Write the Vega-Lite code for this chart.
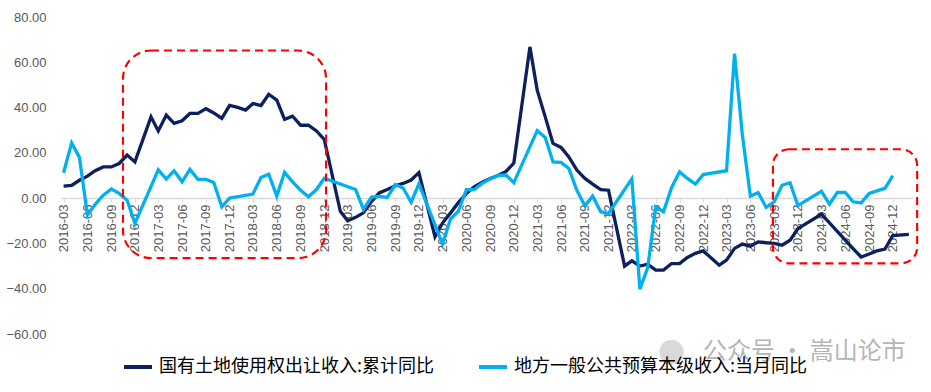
{
  "$schema": "https://vega.github.io/schema/vega-lite/v6.json",
  "width": 852,
  "height": 317,
  "autosize": "none",
  "padding": {"left": 61, "top": 17, "right": 18, "bottom": 58},
  "background": "white",
  "config": {"view": {"stroke": null}, "font": "Liberation Sans"},
  "data": {
    "values": [
      {"m": "2016-03-01T00:00:00", "land": 5.3, "budget": 11.2},
      {"m": "2016-04-01T00:00:00", "land": 5.6, "budget": 24.4},
      {"m": "2016-05-01T00:00:00", "land": 7.9, "budget": 18.0},
      {"m": "2016-06-01T00:00:00", "land": 9.7, "budget": -7.5},
      {"m": "2016-07-01T00:00:00", "land": 12.1, "budget": -2.7},
      {"m": "2016-08-01T00:00:00", "land": 13.8, "budget": 1.3},
      {"m": "2016-09-01T00:00:00", "land": 13.8, "budget": 4.0},
      {"m": "2016-10-01T00:00:00", "land": 15.3, "budget": 2.1},
      {"m": "2016-11-01T00:00:00", "land": 19.0, "budget": -0.9},
      {"m": "2016-12-01T00:00:00", "land": 16.0, "budget": -11.2},
      {"m": "2017-02-01T00:00:00", "land": 35.9, "budget": null},
      {"m": "2017-03-01T00:00:00", "land": 29.7, "budget": 12.5},
      {"m": "2017-04-01T00:00:00", "land": 36.7, "budget": 8.4},
      {"m": "2017-05-01T00:00:00", "land": 33.0, "budget": 12.1},
      {"m": "2017-06-01T00:00:00", "land": 34.2, "budget": 7.2},
      {"m": "2017-07-01T00:00:00", "land": 37.4, "budget": 12.7},
      {"m": "2017-08-01T00:00:00", "land": 37.4, "budget": 8.3},
      {"m": "2017-09-01T00:00:00", "land": 39.5, "budget": 8.3},
      {"m": "2017-10-01T00:00:00", "land": 37.6, "budget": 6.9},
      {"m": "2017-11-01T00:00:00", "land": 35.2, "budget": -3.8},
      {"m": "2017-12-01T00:00:00", "land": 41.0, "budget": 0.0},
      {"m": "2018-01-01T00:00:00", "land": 40.1, "budget": null},
      {"m": "2018-02-01T00:00:00", "land": 38.9, "budget": null},
      {"m": "2018-03-01T00:00:00", "land": 41.8, "budget": 1.8},
      {"m": "2018-04-01T00:00:00", "land": 40.9, "budget": 9.1},
      {"m": "2018-05-01T00:00:00", "land": 45.9, "budget": 10.6},
      {"m": "2018-06-01T00:00:00", "land": 43.3, "budget": 0.9},
      {"m": "2018-07-01T00:00:00", "land": 34.8, "budget": 11.4},
      {"m": "2018-08-01T00:00:00", "land": 36.2, "budget": 7.2},
      {"m": "2018-09-01T00:00:00", "land": 32.2, "budget": 3.5},
      {"m": "2018-10-01T00:00:00", "land": 32.2, "budget": 0.6},
      {"m": "2018-11-01T00:00:00", "land": 29.7, "budget": 3.8},
      {"m": "2018-12-01T00:00:00", "land": 25.9, "budget": 8.8},
      {"m": "2019-02-01T00:00:00", "land": -5.8, "budget": null},
      {"m": "2019-03-01T00:00:00", "land": -10.0, "budget": null},
      {"m": "2019-04-01T00:00:00", "land": -8.5, "budget": 3.8},
      {"m": "2019-05-01T00:00:00", "land": -6.5, "budget": -5.0},
      {"m": "2019-06-01T00:00:00", "land": -1.5, "budget": 0.5},
      {"m": "2019-07-01T00:00:00", "land": 2.3, "budget": 0.8},
      {"m": "2019-08-01T00:00:00", "land": 3.8, "budget": 0.3},
      {"m": "2019-09-01T00:00:00", "land": 5.5, "budget": 6.0},
      {"m": "2019-10-01T00:00:00", "land": 6.5, "budget": 4.5},
      {"m": "2019-11-01T00:00:00", "land": 8.0, "budget": -1.8},
      {"m": "2019-12-01T00:00:00", "land": 11.3, "budget": 6.3},
      {"m": "2020-02-01T00:00:00", "land": -17.1, "budget": null},
      {"m": "2020-03-01T00:00:00", "land": -11.0, "budget": -20.3},
      {"m": "2020-04-01T00:00:00", "land": -6.5, "budget": -9.2},
      {"m": "2020-05-01T00:00:00", "land": -2.0, "budget": -5.8},
      {"m": "2020-06-01T00:00:00", "land": 2.0, "budget": 3.8},
      {"m": "2020-07-01T00:00:00", "land": 5.0, "budget": 3.8},
      {"m": "2020-08-01T00:00:00", "land": 7.0, "budget": 6.5},
      {"m": "2020-09-01T00:00:00", "land": 8.7, "budget": 8.5},
      {"m": "2020-10-01T00:00:00", "land": 10.0, "budget": 10.0},
      {"m": "2020-11-01T00:00:00", "land": 11.8, "budget": 10.2},
      {"m": "2020-12-01T00:00:00", "land": 15.5, "budget": 6.8},
      {"m": "2021-02-01T00:00:00", "land": 66.8, "budget": null},
      {"m": "2021-03-01T00:00:00", "land": 47.7, "budget": 29.8},
      {"m": "2021-04-01T00:00:00", "land": 35.9, "budget": 26.8},
      {"m": "2021-05-01T00:00:00", "land": 24.2, "budget": 16.0},
      {"m": "2021-06-01T00:00:00", "land": 22.4, "budget": 15.8},
      {"m": "2021-07-01T00:00:00", "land": 18.2, "budget": 13.1},
      {"m": "2021-08-01T00:00:00", "land": 12.4, "budget": 3.5},
      {"m": "2021-09-01T00:00:00", "land": 8.7, "budget": -3.4},
      {"m": "2021-10-01T00:00:00", "land": 6.2, "budget": 0.9},
      {"m": "2021-11-01T00:00:00", "land": 3.8, "budget": -6.0},
      {"m": "2021-12-01T00:00:00", "land": 3.5, "budget": -6.8},
      {"m": "2022-02-01T00:00:00", "land": -30.0, "budget": null},
      {"m": "2022-03-01T00:00:00", "land": -27.7, "budget": 8.5},
      {"m": "2022-04-01T00:00:00", "land": -30.0, "budget": -40.2},
      {"m": "2022-05-01T00:00:00", "land": -29.2, "budget": -30.8},
      {"m": "2022-06-01T00:00:00", "land": -31.8, "budget": -3.8},
      {"m": "2022-07-01T00:00:00", "land": -31.8, "budget": -6.0},
      {"m": "2022-08-01T00:00:00", "land": -28.9, "budget": 4.6},
      {"m": "2022-09-01T00:00:00", "land": -28.9, "budget": 11.6},
      {"m": "2022-10-01T00:00:00", "land": -26.2, "budget": 8.7},
      {"m": "2022-11-01T00:00:00", "land": -24.4, "budget": 6.2},
      {"m": "2022-12-01T00:00:00", "land": -23.3, "budget": 10.4},
      {"m": "2023-02-01T00:00:00", "land": -29.6, "budget": null},
      {"m": "2023-03-01T00:00:00", "land": -27.4, "budget": 12.1},
      {"m": "2023-04-01T00:00:00", "land": -22.2, "budget": 63.8},
      {"m": "2023-05-01T00:00:00", "land": -20.3, "budget": 28.0},
      {"m": "2023-06-01T00:00:00", "land": -21.2, "budget": 0.9},
      {"m": "2023-07-01T00:00:00", "land": -19.3, "budget": 2.4},
      {"m": "2023-08-01T00:00:00", "land": -19.7, "budget": -4.1},
      {"m": "2023-09-01T00:00:00", "land": -20.0, "budget": -1.6},
      {"m": "2023-10-01T00:00:00", "land": -20.8, "budget": 5.7},
      {"m": "2023-11-01T00:00:00", "land": -18.6, "budget": 6.8},
      {"m": "2023-12-01T00:00:00", "land": -13.5, "budget": -3.3},
      {"m": "2024-03-01T00:00:00", "land": -7.1, "budget": 3.0},
      {"m": "2024-04-01T00:00:00", "land": -10.9, "budget": -2.7},
      {"m": "2024-05-01T00:00:00", "land": -14.7, "budget": 2.5},
      {"m": "2024-06-01T00:00:00", "land": -18.5, "budget": 2.5},
      {"m": "2024-07-01T00:00:00", "land": -22.3, "budget": -1.6},
      {"m": "2024-08-01T00:00:00", "land": -26.0, "budget": -2.1},
      {"m": "2024-09-01T00:00:00", "land": -24.7, "budget": 2.1},
      {"m": "2024-10-01T00:00:00", "land": -23.3, "budget": 3.2},
      {"m": "2024-11-01T00:00:00", "land": -22.5, "budget": 4.3},
      {"m": "2024-12-01T00:00:00", "land": -16.5, "budget": 9.9},
      {"m": "2025-02-01T00:00:00", "land": -16.0, "budget": null}
    ]
  },
  "layer": [
    {
      "transform": [
        {"fold": ["land", "budget"], "as": ["key", "value"]},
        {"filter": "isValid(datum.value) && datum.key == 'land'"}
      ],
      "mark": {"type": "line", "strokeWidth": 3.3},
      "encoding": {
        "x": {
          "field": "m", "type": "temporal",
          "scale": {"domain": [{"year": 2016, "month": 2, "date": 20}, {"year": 2025, "month": 2, "date": 17}]},
          "axis": {
            "title": null, "format": "%Y-%m", "labelAngle": -90, "labelAlign": "right", "labelBaseline": "middle",
            "labelFontSize": 13, "labelColor": "#595959", "domainColor": "#d9d9d9", "domainWidth": 1.5,
            "tickColor": "#d9d9d9", "tickSize": 4, "offset": -136, "grid": false, "labelPadding": 2,
            "labelOverlap": false, "labelFlush": false, "tickCount": 200,
            "values": [
              {"year": 2016, "month": 3, "date": 1}, {"year": 2016, "month": 6, "date": 1}, {"year": 2016, "month": 9, "date": 1}, {"year": 2016, "month": 12, "date": 1},
              {"year": 2017, "month": 3, "date": 1}, {"year": 2017, "month": 6, "date": 1}, {"year": 2017, "month": 9, "date": 1}, {"year": 2017, "month": 12, "date": 1},
              {"year": 2018, "month": 3, "date": 1}, {"year": 2018, "month": 6, "date": 1}, {"year": 2018, "month": 9, "date": 1}, {"year": 2018, "month": 12, "date": 1},
              {"year": 2019, "month": 3, "date": 1}, {"year": 2019, "month": 6, "date": 1}, {"year": 2019, "month": 9, "date": 1}, {"year": 2019, "month": 12, "date": 1},
              {"year": 2020, "month": 3, "date": 1}, {"year": 2020, "month": 6, "date": 1}, {"year": 2020, "month": 9, "date": 1}, {"year": 2020, "month": 12, "date": 1},
              {"year": 2021, "month": 3, "date": 1}, {"year": 2021, "month": 6, "date": 1}, {"year": 2021, "month": 9, "date": 1}, {"year": 2021, "month": 12, "date": 1},
              {"year": 2022, "month": 3, "date": 1}, {"year": 2022, "month": 6, "date": 1}, {"year": 2022, "month": 9, "date": 1}, {"year": 2022, "month": 12, "date": 1},
              {"year": 2023, "month": 3, "date": 1}, {"year": 2023, "month": 6, "date": 1}, {"year": 2023, "month": 9, "date": 1}, {"year": 2023, "month": 12, "date": 1},
              {"year": 2024, "month": 3, "date": 1}, {"year": 2024, "month": 6, "date": 1}, {"year": 2024, "month": 9, "date": 1}, {"year": 2024, "month": 12, "date": 1}
            ]
          }
        },
        "y": {
          "field": "value", "type": "quantitative",
          "scale": {"domain": [-60, 80], "nice": false, "zero": false},
          "axis": {
            "title": null, "values": [-60, -40, -20, 0, 20, 40, 60, 80], "format": ".2f",
            "domain": false, "ticks": false, "grid": false, "labelFontSize": 13, "labelColor": "#595959", "labelPadding": 15
          }
        },
        "color": {
          "field": "key", "type": "nominal",
          "scale": {"domain": ["land", "budget"], "range": ["#0c1f5e", "#00b0f0"]},
          "legend": {
            "orient": "none", "legendX": 61, "legendY": 334, "direction": "horizontal", "title": null,
            "symbolType": "stroke", "symbolSize": 784, "symbolStrokeWidth": 4,
            "labelFontSize": 18, "labelFont": "Noto Sans CJK SC", "labelColor": "#000000", "labelLimit": 400,
            "columnPadding": 36, "labelOffset": 5,
            "labelExpr": "datum.label == 'land' ? '国有土地使用权出让收入:累计同比' : '地方一般公共预算本级收入:当月同比'"
          }
        }
      }
    },
    {
      "transform": [
        {"fold": ["land", "budget"], "as": ["key", "value"]},
        {"filter": "isValid(datum.value) && datum.key == 'budget'"}
      ],
      "mark": {"type": "line", "strokeWidth": 3.3},
      "encoding": {
        "x": {"field": "m", "type": "temporal"},
        "y": {"field": "value", "type": "quantitative"},
        "color": {"field": "key", "type": "nominal"}
      }
    },
    {
      "data": {"values": [{}]},
      "mark": {"type": "rect", "fillOpacity": 0, "stroke": "#ff0000", "strokeWidth": 2.2, "strokeDash": [8, 5], "cornerRadius": 28},
      "encoding": {
        "x": {"datum": {"year": 2016, "month": 10, "date": 16}, "type": "temporal"},
        "x2": {"datum": {"year": 2018, "month": 12, "date": 8}},
        "y": {"datum": 65.2, "type": "quantitative"},
        "y2": {"datum": -26.5}
      }
    },
    {
      "data": {"values": [{}]},
      "mark": {"type": "rect", "fillOpacity": 0, "stroke": "#ff0000", "strokeWidth": 2.2, "strokeDash": [8, 5], "cornerRadius": 16},
      "encoding": {
        "x": {"datum": {"year": 2023, "month": 8, "date": 27}, "type": "temporal"},
        "x2": {"datum": {"year": 2025, "month": 3, "date": 5}},
        "y": {"datum": 21.6, "type": "quantitative"},
        "y2": {"datum": -28.8}
      }
    },
    {
      "data": {"values": [{}]},
      "mark": {"type": "point", "shape": "circle", "filled": true, "size": 600, "color": "#cfcfcf", "opacity": 0.8},
      "encoding": {
        "x": {"datum": {"year": 2022, "month": 8, "date": 1}, "type": "temporal"},
        "y": {"datum": -68, "type": "quantitative"}
      }
    },
    {
      "data": {"values": [{}]},
      "mark": {"type": "text", "text": "公众号 · 嵩山论市", "align": "right", "baseline": "middle", "font": "Noto Sans CJK SC", "fontSize": 24, "color": "#b5b5b5"},
      "encoding": {
        "x": {"datum": {"year": 2025, "month": 1, "date": 20}, "type": "temporal"},
        "y": {"datum": -68, "type": "quantitative"}
      }
    }
  ]
}
